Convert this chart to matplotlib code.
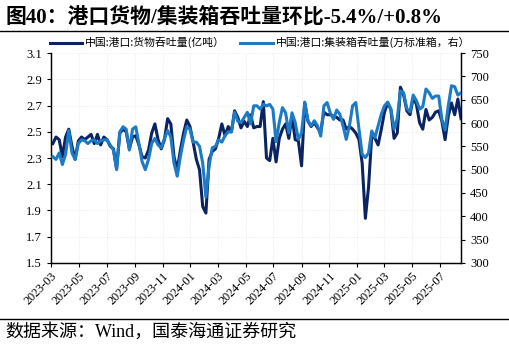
import numpy as np
import pandas as pd
import matplotlib
matplotlib.use('Agg')
import matplotlib.pyplot as plt
import matplotlib.dates as mdates
from matplotlib.lines import Line2D

# 字体：数字用衬线体，中文回落到 Noto Sans CJK
plt.rcParams['font.family'] = ['Liberation Serif', 'Noto Sans CJK SC']
plt.rcParams['axes.unicode_minus'] = False

# 周度数据
dates = pd.date_range('2023-03-05', periods=129, freq='7D')

cargo = [  # 中国:港口:货物吞吐量(亿吨)
    2.41, 2.46, 2.44, 2.31, 2.46, 2.52, 2.39, 2.29, 2.43, 2.46,
    2.44, 2.46, 2.48, 2.41, 2.48, 2.40, 2.46, 2.44, 2.39, 2.37,
    2.22, 2.49, 2.52, 2.50, 2.37, 2.46, 2.47, 2.40, 2.31, 2.30,
    2.36, 2.49, 2.56, 2.44, 2.37, 2.44, 2.60, 2.56, 2.31, 2.21,
    2.36, 2.49, 2.59, 2.54, 2.42, 2.29, 2.21, 1.93, 1.88, 2.29,
    2.35, 2.37, 2.45, 2.56, 2.47, 2.54, 2.50, 2.66, 2.61, 2.53,
    2.58, 2.54, 2.63, 2.53, 2.54, 2.54, 2.73, 2.30, 2.28, 2.45,
    2.27, 2.45, 2.52, 2.56, 2.45, 2.62, 2.44, 2.43, 2.24, 2.72,
    2.58, 2.54, 2.57, 2.53, 2.50, 2.65, 2.63, 2.63, 2.62, 2.61,
    2.59, 2.59, 2.52, 2.54, 2.52, 2.49, 2.44, 2.26, 1.84, 2.08,
    2.47, 2.45, 2.40, 2.52, 2.65, 2.72, 2.67, 2.45, 2.49, 2.84,
    2.78, 2.66, 2.63, 2.76, 2.71, 2.57, 2.52, 2.67, 2.59, 2.61,
    2.65, 2.66, 2.58, 2.44, 2.62, 2.72, 2.63, 2.75, 2.60,
]

container = [  # 中国:港口:集装箱吞吐量(万标准箱)
    528, 522, 536, 511, 533, 584, 536, 522, 556, 564,
    562, 556, 562, 564, 556, 562, 564, 564, 553, 542,
    500, 581, 592, 587, 542, 587, 592, 556, 517, 500,
    522, 556, 567, 553, 547, 567, 584, 570, 514, 486,
    528, 564, 592, 587, 559, 559, 550, 514, 441, 508,
    547, 550, 564, 559, 573, 581, 581, 623, 604, 601,
    612, 623, 598, 637, 637, 630, 640, 637, 640, 630,
    560, 601, 633, 622, 579, 622, 601, 565, 579, 645,
    605, 594, 605, 594, 572, 637, 644, 622, 608, 628,
    619, 594, 565, 594, 637, 644, 587, 533, 526, 536,
    583, 569, 594, 619, 637, 645, 630, 587, 610, 669,
    665, 631, 624, 660, 648, 630, 635, 673, 665, 653,
    658, 658, 608, 585, 637, 680, 678, 660, 665,
]

left_ticks = [1.5, 1.7, 1.9, 2.1, 2.3, 2.5, 2.7, 2.9, 3.1]
right_ticks = [300, 350, 400, 450, 500, 550, 600, 650, 700, 750]

c_dark = '#0A2463'
c_light = '#1C7BC4'

fig = plt.figure(figsize=(5.1, 3.45), dpi=100)
ax = fig.add_axes([0.100, 0.238, 0.804, 0.608])
ax2 = ax.twinx()

ax.plot(dates, cargo, color=c_dark, lw=2.2, zorder=3, solid_joinstyle='round')
ax2.plot(dates, container, color=c_light, lw=2.2, zorder=3, solid_joinstyle='round')

ax.set_ylim(1.5, 3.1)
ax.set_yticks(left_ticks)
ax.set_yticklabels([f'{v:.1f}' for v in left_ticks])
ax2.set_ylim(300, 750)
ax2.set_yticks(right_ticks)

ax.set_xlim(pd.Timestamp('2023-03-01'), dates[-1])
ax.xaxis.set_major_locator(mdates.MonthLocator(bymonth=[1, 3, 5, 7, 9, 11]))
ax.xaxis.set_major_formatter(mdates.DateFormatter('%Y-%m'))

ax.grid(True, color='#E6E6E6', lw=0.6, ls=':')
ax.set_axisbelow(True)

for a in (ax, ax2):
    a.spines['top'].set_visible(False)
    for s in ('left', 'right', 'bottom'):
        a.spines[s].set_color('black')
        a.spines[s].set_linewidth(0.9)
    a.tick_params(labelsize=9, length=3, width=0.8, direction='out')
ax.tick_params(axis='x', labelsize=8.8, pad=2)
for lab in ax.get_xticklabels():
    lab.set_rotation(45)
    lab.set_ha('right')
    lab.set_rotation_mode('anchor')

handles = [Line2D([], [], color=c_dark, lw=2.2), Line2D([], [], color=c_light, lw=2.2)]
labels = ['中国:港口:货物吞吐量(亿吨）', '中国:港口:集装箱吞吐量(万标准箱，右）']
fig.legend(handles, labels, loc='center', bbox_to_anchor=(0.51, 0.876), ncol=2,
           frameon=False, handlelength=3.0, columnspacing=1.4,
           handletextpad=0.3, prop={'family': ['Noto Sans CJK SC'], 'size': 7.8})

fig.text(0.01, 0.948, '图40：港口货物/集装箱吞吐量环比-5.4%/+0.8%', fontsize=15,
         fontweight='bold', va='center', ha='left')
fig.add_artist(Line2D([0.0, 1.0], [0.911, 0.911], color='black', lw=1.0))
fig.add_artist(Line2D([0.0, 1.0], [0.075, 0.075], color='black', lw=1.0))
fig.text(0.01, 0.038, '数据来源：Wind，国泰海通证券研究', fontsize=13,
         va='center', ha='left')

fig.savefig('out.png', dpi=100)
